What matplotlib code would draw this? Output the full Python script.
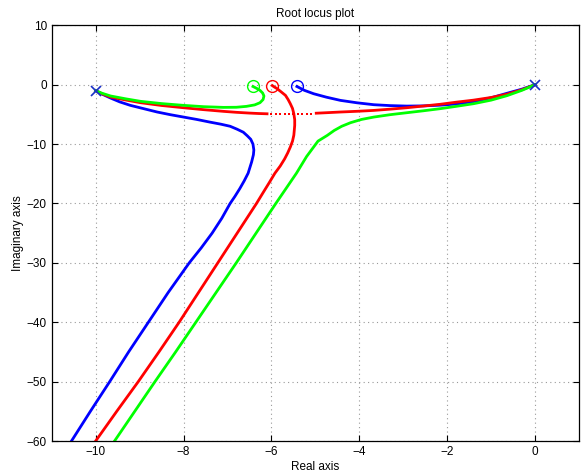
import matplotlib
matplotlib.use('Agg')
import matplotlib.pyplot as plt

plt.rcParams['font.family'] = ['Liberation Sans', 'DejaVu Sans']

# poles / zeros
pole_x = [-10.0, 0.0]
pole_y = [-1.0, 0.0]
zero_blue = (-5.42, -0.3)
zero_red = (-5.98, -0.15)
zero_green = (-6.42, -0.3)

# blue locus
blue_a_x = [-10.0, -9.85, -9.66, -9.45, -9.21, -8.9, -8.6, -8.3, -8.0, -7.7, -7.4, -7.15, -6.94,
            -6.78, -6.64, -6.55, -6.47, -6.42, -6.40, -6.41, -6.45, -6.53, -6.62, -6.72, -6.83,
            -6.94, -7.13, -7.35, -7.6, -7.87, -8.35, -8.8, -9.25, -9.68, -10.12, -10.55, -10.64]
blue_a_y = [-1.0, -1.6, -2.25, -2.9, -3.48, -4.05, -4.6, -5.05, -5.45, -5.85, -6.3, -6.65, -7.0,
            -7.5, -8.0, -8.6, -9.2, -10.0, -11.0, -11.8, -13.0, -14.9, -16.2, -17.5, -18.8,
            -20.0, -22.5, -25.0, -27.5, -30.0, -35.0, -40.0, -45.0, -50.0, -55.0, -60.0, -61.0]
blue_b_x = [0.0, -0.3, -0.64, -1.0, -1.4, -1.8, -2.16, -2.55, -2.92, -3.3, -3.67, -4.05, -4.43,
            -4.75, -5.04, -5.25, -5.42]
blue_b_y = [0.0, -0.75, -1.45, -2.2, -2.85, -3.25, -3.45, -3.57, -3.6, -3.52, -3.37, -3.05, -2.64,
            -2.1, -1.52, -0.95, -0.3]

# red locus
red_a_x = [-10.0, -9.85, -9.66, -9.3, -8.98, -8.5, -8.0, -7.55, -7.09, -6.8, -6.5, -6.3, -6.1]
red_a_y = [-1.0, -1.55, -2.08, -2.6, -3.03, -3.5, -3.88, -4.2, -4.49, -4.65, -4.78, -4.85, -4.9]
red_dot_x = [-6.0, -5.9, -5.8, -5.7, -5.6, -5.5, -5.4, -5.3, -5.2, -5.1]
red_dot_y = [-4.92, -4.94, -4.95, -4.96, -4.97, -4.97, -4.96, -4.94, -4.91, -4.87]
red_b_x = [0.0, -0.3, -0.64, -1.0, -1.4, -1.8, -2.16, -2.55, -2.92, -3.3, -3.67, -4.05, -4.43,
           -4.7, -4.98]
red_b_y = [0.0, -0.85, -1.6, -2.15, -2.6, -2.95, -3.3, -3.6, -3.88, -4.12, -4.33, -4.48, -4.6,
           -4.7, -4.8]
red_c_x = [-5.98, -5.93, -5.87, -5.78, -5.68, -5.62, -5.57, -5.52, -5.49, -5.47, -5.47, -5.48,
           -5.49, -5.52, -5.57, -5.63, -5.7, -5.8, -5.92, -6.05, -6.2, -6.34, -6.78,
           -7.22, -7.66, -8.1, -8.56, -9.03, -9.52, -10.0, -10.09]
red_c_y = [-0.15, -0.4, -0.67, -1.2, -1.8, -2.5, -3.2, -4.0, -4.9, -5.9, -6.85, -7.7,
           -8.5, -9.5, -10.5, -11.5, -12.5, -13.7, -14.9, -16.5, -18.3, -20.0, -25.0,
           -30.0, -35.0, -40.0, -45.0, -50.0, -55.0, -60.0, -61.0]

# green locus
green_a_x = [-10.0, -9.85, -9.66, -9.3, -8.98, -8.5, -8.0, -7.55, -7.09, -6.8, -6.57, -6.38,
             -6.26, -6.19, -6.17, -6.2, -6.26, -6.34, -6.42]
green_a_y = [-1.0, -1.45, -1.9, -2.4, -2.8, -3.18, -3.48, -3.7, -3.82, -3.8, -3.65, -3.4,
             -3.03, -2.5, -1.9, -1.4, -0.96, -0.6, -0.3]
green_b_x = [0.0, -0.3, -0.64, -1.0, -1.4, -1.8, -2.16, -2.55, -2.92, -3.3, -3.67, -3.95, -4.2,
             -4.4, -4.57, -4.73, -4.94, -5.2, -5.43, -5.9, -6.35, -6.8, -7.26, -7.72, -8.18,
             -8.65, -9.11, -9.57, -9.66]
green_b_y = [0.0, -0.95, -1.85, -2.6, -3.2, -3.65, -4.04, -4.4, -4.72, -5.05, -5.45, -5.85, -6.4,
             -7.0, -7.7, -8.54, -9.5, -12.1, -14.9, -20.0, -25.0, -30.0, -35.0, -40.0, -45.0,
             -50.0, -55.0, -60.0, -61.0]

fig = plt.figure(figsize=(5.81, 4.74), dpi=100)
ax = fig.add_axes([0.089, 0.0696, 0.9076, 0.877])

lw = 2.0
ax.plot(blue_a_x, blue_a_y, color='#0000ff', lw=lw)
ax.plot(blue_b_x, blue_b_y, color='#0000ff', lw=lw)
ax.plot(red_a_x, red_a_y, color='#ff0000', lw=lw)
ax.plot(red_b_x, red_b_y, color='#ff0000', lw=lw)
ax.plot(red_c_x, red_c_y, color='#ff0000', lw=lw)
ax.plot(red_dot_x, red_dot_y, color='#ff0000', ls='none', marker='s', ms=1.6, mew=0)
ax.plot(green_a_x, green_a_y, color='#00ff00', lw=lw)
ax.plot(green_b_x, green_b_y, color='#00ff00', lw=lw)

for (zx, zy), c in [(zero_blue, '#0000ff'), (zero_red, '#ff0000'), (zero_green, '#00ff00')]:
    ax.plot([zx], [zy], ls='none', marker='o', ms=8.5, mfc='none', mec=c, mew=1.0)
ax.plot(pole_x, pole_y, ls='none', marker='x', ms=7, mew=1.2, color='#1a2fc8')

ax.set_xlim(-11, 1)
ax.set_ylim(-60, 10)
ax.set_xticks([-10, -8, -6, -4, -2, 0])
ax.set_yticks([-60, -50, -40, -30, -20, -10, 0, 10])
ax.tick_params(direction='in', top=True, right=True, length=4, labelsize=8.5, width=0.8)
ax.grid(True, color='#999999', linestyle=(0, (1, 3)), linewidth=0.8)
for s in ax.spines.values():
    s.set_linewidth(0.9)

ax.set_title('Root locus plot', fontsize=8.5, pad=6)
ax.set_xlabel('Real axis', fontsize=8.5, labelpad=2)
ax.set_ylabel('Imaginary axis', fontsize=8.5, labelpad=2)

fig.savefig('out.png', dpi=100)
